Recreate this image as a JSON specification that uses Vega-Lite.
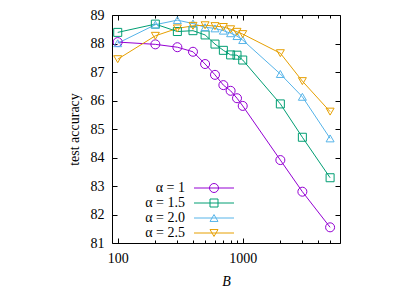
{
  "$schema": "https://vega.github.io/schema/vega-lite/v6.json",
  "width": 228,
  "height": 228,
  "autosize": "none",
  "padding": {"left": 112, "top": 15, "right": 75, "bottom": 48},
  "background": "white",
  "config": {
    "font": "Liberation Serif",
    "view": {"stroke": "black", "strokeWidth": 1},
    "axis": {"domain": false, "grid": false, "tickColor": "black", "labelColor": "black", "titleColor": "black", "labelFontSize": 14, "titleFontSize": 14, "titleFontWeight": "normal", "tickWidth": 1, "labelFont": "Liberation Serif", "titleFont": "Liberation Serif"},
    "legend": {"orient": "none", "legendX": 95, "legendY": 166, "labelFont": "Liberation Serif", "labelFontSize": 14, "labelColor": "black", "labelAlign": "right", "labelOffset": -36, "symbolSize": 100, "symbolStrokeWidth": 1, "rowPadding": 1, "padding": 0, "labelLimit": 0}
  },
  "data": {"values": [
    {"B": 100, "acc": 88.05, "s": "α = 1"},
    {"B": 200, "acc": 87.97, "s": "α = 1"},
    {"B": 300, "acc": 87.87, "s": "α = 1"},
    {"B": 400, "acc": 87.71, "s": "α = 1"},
    {"B": 500, "acc": 87.28, "s": "α = 1"},
    {"B": 600, "acc": 86.9, "s": "α = 1"},
    {"B": 700, "acc": 86.54, "s": "α = 1"},
    {"B": 800, "acc": 86.34, "s": "α = 1"},
    {"B": 900, "acc": 86.08, "s": "α = 1"},
    {"B": 1000, "acc": 85.81, "s": "α = 1"},
    {"B": 2000, "acc": 83.91, "s": "α = 1"},
    {"B": 3000, "acc": 82.8, "s": "α = 1"},
    {"B": 5000, "acc": 81.55, "s": "α = 1"},
    {"B": 100, "acc": 88.39, "s": "α = 1.5"},
    {"B": 200, "acc": 88.68, "s": "α = 1.5"},
    {"B": 300, "acc": 88.42, "s": "α = 1.5"},
    {"B": 400, "acc": 88.45, "s": "α = 1.5"},
    {"B": 500, "acc": 88.3, "s": "α = 1.5"},
    {"B": 600, "acc": 87.98, "s": "α = 1.5"},
    {"B": 700, "acc": 87.76, "s": "α = 1.5"},
    {"B": 800, "acc": 87.6, "s": "α = 1.5"},
    {"B": 900, "acc": 87.59, "s": "α = 1.5"},
    {"B": 1000, "acc": 87.42, "s": "α = 1.5"},
    {"B": 2000, "acc": 85.88, "s": "α = 1.5"},
    {"B": 3000, "acc": 84.71, "s": "α = 1.5"},
    {"B": 5000, "acc": 83.29, "s": "α = 1.5"},
    {"B": 100, "acc": 88.01, "s": "α = 2.0"},
    {"B": 200, "acc": 88.66, "s": "α = 2.0"},
    {"B": 300, "acc": 88.82, "s": "α = 2.0"},
    {"B": 400, "acc": 88.7, "s": "α = 2.0"},
    {"B": 500, "acc": 88.57, "s": "α = 2.0"},
    {"B": 600, "acc": 88.53, "s": "α = 2.0"},
    {"B": 700, "acc": 88.45, "s": "α = 2.0"},
    {"B": 800, "acc": 88.36, "s": "α = 2.0"},
    {"B": 900, "acc": 88.26, "s": "α = 2.0"},
    {"B": 1000, "acc": 88.12, "s": "α = 2.0"},
    {"B": 2000, "acc": 86.93, "s": "α = 2.0"},
    {"B": 3000, "acc": 86.13, "s": "α = 2.0"},
    {"B": 5000, "acc": 84.67, "s": "α = 2.0"},
    {"B": 100, "acc": 87.45, "s": "α = 2.5"},
    {"B": 200, "acc": 88.27, "s": "α = 2.5"},
    {"B": 300, "acc": 88.53, "s": "α = 2.5"},
    {"B": 400, "acc": 88.62, "s": "α = 2.5"},
    {"B": 500, "acc": 88.64, "s": "α = 2.5"},
    {"B": 600, "acc": 88.61, "s": "α = 2.5"},
    {"B": 700, "acc": 88.58, "s": "α = 2.5"},
    {"B": 800, "acc": 88.5, "s": "α = 2.5"},
    {"B": 900, "acc": 88.41, "s": "α = 2.5"},
    {"B": 1000, "acc": 88.33, "s": "α = 2.5"},
    {"B": 2000, "acc": 87.66, "s": "α = 2.5"},
    {"B": 3000, "acc": 86.68, "s": "α = 2.5"},
    {"B": 5000, "acc": 85.61, "s": "α = 2.5"}
  ]},
  "resolve": {"axis": {"x": "independent", "y": "independent"}},
  "layer": [
    {
      "mark": {"type": "line", "strokeWidth": 1},
      "encoding": {
        "x": {"field": "B", "type": "quantitative", "scale": {"type": "log", "domain": [90, 6000], "nice": false},
              "axis": {"orient": "bottom", "values": [100, 1000], "format": "d", "tickSize": -5, "labelPadding": 13, "title": "B", "titleFontStyle": "italic", "titlePadding": 9}},
        "y": {"field": "acc", "type": "quantitative", "scale": {"domain": [81, 89], "nice": false, "zero": false},
              "axis": {"orient": "left", "values": [81, 82, 83, 84, 85, 86, 87, 88, 89], "tickSize": -5, "labelPadding": 13, "title": "test accuracy", "titlePadding": 9}},
        "color": {"field": "s", "type": "nominal", "title": null,
                  "scale": {"domain": ["α = 1", "α = 1.5", "α = 2.0", "α = 2.5"], "range": ["#9400d3", "#009e73", "#56b4e9", "#e69f00"]}}
      }
    },
    {
      "transform": [{"filter": "datum.s == 'α = 1'"}],
      "mark": {"type": "point", "shape": "circle", "size": 81, "filled": false, "strokeWidth": 1, "opacity": 1},
      "encoding": {
        "x": {"field": "B", "type": "quantitative", "axis": {"orient": "bottom", "values": [200, 300, 400, 500, 600, 700, 800, 900, 2000, 3000, 4000, 5000], "labels": false, "tickSize": -3, "title": null}},
        "y": {"field": "acc", "type": "quantitative", "axis": {"orient": "right", "values": [81, 82, 83, 84, 85, 86, 87, 88, 89], "labels": false, "tickSize": -5, "title": null}},
        "color": {"field": "s", "type": "nominal", "title": null}
      }
    },
    {
      "transform": [{"filter": "datum.s == 'α = 1.5'"}],
      "mark": {"type": "point", "shape": "square", "size": 64, "filled": false, "strokeWidth": 1, "opacity": 1},
      "encoding": {
        "x": {"field": "B", "type": "quantitative", "axis": {"orient": "top", "values": [100, 1000], "labels": false, "tickSize": -5, "title": null}},
        "y": {"field": "acc", "type": "quantitative", "axis": null},
        "color": {"field": "s", "type": "nominal", "title": null}
      }
    },
    {
      "transform": [{"filter": "datum.s == 'α = 2.0'"}],
      "mark": {"type": "point", "shape": "triangle-up", "size": 64, "filled": false, "strokeWidth": 1, "opacity": 1},
      "encoding": {
        "x": {"field": "B", "type": "quantitative", "axis": {"orient": "top", "values": [200, 300, 400, 500, 600, 700, 800, 900, 2000, 3000, 4000, 5000], "labels": false, "tickSize": -3, "title": null}},
        "y": {"field": "acc", "type": "quantitative", "axis": null},
        "color": {"field": "s", "type": "nominal", "title": null}
      }
    },
    {
      "transform": [{"filter": "datum.s == 'α = 2.5'"}],
      "mark": {"type": "point", "shape": "triangle-down", "size": 64, "filled": false, "strokeWidth": 1, "opacity": 1},
      "encoding": {
        "x": {"field": "B", "type": "quantitative", "axis": null},
        "y": {"field": "acc", "type": "quantitative", "axis": null},
        "color": {"field": "s", "type": "nominal", "title": null}
      }
    },
    {
      "transform": [{"filter": "false"}],
      "mark": {"type": "point", "filled": false, "strokeWidth": 1, "opacity": 1},
      "encoding": {
        "x": {"field": "B", "type": "quantitative", "axis": null},
        "y": {"field": "acc", "type": "quantitative", "axis": null},
        "color": {"field": "s", "type": "nominal", "title": null},
        "shape": {"field": "s", "type": "nominal", "title": null,
                  "scale": {"domain": ["α = 1", "α = 1.5", "α = 2.0", "α = 2.5"],
                            "range": ["M-4,0L4,0M0.9,0A0.9,0.9,0,1,1,-0.9,0A0.9,0.9,0,1,1,0.9,0", "M-4,0L4,0M-0.8,-0.8L0.8,-0.8L0.8,0.8L-0.8,0.8Z", "M-4,0L4,0M0,-0.69L-0.8,0.69L0.8,0.69Z", "M-4,0L4,0M0,0.69L-0.8,-0.69L0.8,-0.69Z"]}}
      }
    }
  ]
}
